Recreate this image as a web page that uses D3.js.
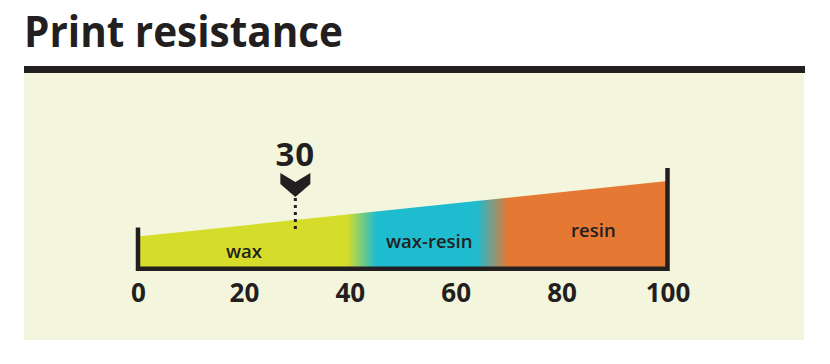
<!DOCTYPE html>
<html>
<head>
<meta charset="utf-8">
<script src="https://cdn.jsdelivr.net/npm/d3@7"></script>
<style>
  body { margin: 0; background: #ffffff; }
  text { font-family: "Open Sans", sans-serif; fill: #231f20; }
</style>
</head>
<body>
<div id="chart"></div>
<script>
var svgWidth = 830;
var svgHeight = 364;

// data
var title = "Print resistance";
var tickValues = [0, 20, 40, 60, 80, 100];
var zoneNames = ["wax", "wax-resin", "resin"];
var zoneColors = ["#d5dc29", "#1fbccf", "#e57832"];
var zoneStarts = [0, 45, 70];   // where each colour is fully on
var zoneEnds = [39.5, 64, 100]; // where each colour starts to fade
var labelX = [20, 55, 86];
var labelLevel = [11, 21, 31];
var wedgeX = [0, 100];
var wedgeTop = [32, 87];
var wallHeights = [41, 100];
var markerValue = 30;

var x = d3.scaleLinear().domain([0, 100]).range([138, 667.5]);
var y = d3.scaleLinear().domain([0, 100]).range([268.7, 168]);

var svg = d3.select("#chart")
  .append("svg")
  .attr("width", svgWidth)
  .attr("height", svgHeight);

// panel + heading bar
svg.append("rect")
  .attr("x", 24).attr("y", 72)
  .attr("width", 780).attr("height", 268)
  .attr("fill", "#f3f6dc");

svg.append("rect")
  .attr("x", 24).attr("y", 66)
  .attr("width", 781).attr("height", 7)
  .attr("fill", "#231f20");

svg.append("text")
  .attr("x", 24).attr("y", 47)
  .attr("font-size", 43)
  .attr("font-weight", 700)
  .attr("textLength", 319)
  .attr("lengthAdjust", "spacingAndGlyphs")
  .text(title);

// gradient along the x axis
var defs = svg.append("defs");
var grad = defs.append("linearGradient")
  .attr("id", "zones")
  .attr("gradientUnits", "userSpaceOnUse")
  .attr("x1", x(0)).attr("x2", x(100))
  .attr("y1", 0).attr("y2", 0);

zoneNames.forEach(function(name, i) {
  grad.append("stop").attr("offset", zoneStarts[i] / 100).attr("stop-color", zoneColors[i]);
  grad.append("stop").attr("offset", zoneEnds[i] / 100).attr("stop-color", zoneColors[i]);
});

// wedge
var area = d3.area()
  .x(d => x(d[0]))
  .y0(y(0))
  .y1(d => y(d[1]));

svg.append("path")
  .datum(wedgeX.map((v, i) => [v, wedgeTop[i]]))
  .attr("d", area)
  .attr("fill", "url(#zones)");

// zone labels
svg.selectAll(".zone-label")
  .data(zoneNames)
  .enter()
  .append("text")
  .attr("class", "zone-label")
  .attr("x", (d, i) => x(labelX[i]))
  .attr("y", (d, i) => y(labelLevel[i]))
  .attr("text-anchor", "middle")
  .attr("font-size", 18.5)
  .attr("font-weight", 600)
  .text(d => d);

// axis frame
var frame = d3.line()([
  [x(0), y(wallHeights[0])],
  [x(0), y(0)],
  [x(100), y(0)],
  [x(100), y(wallHeights[1])]
]);
svg.append("path")
  .attr("d", frame)
  .attr("fill", "none")
  .attr("stroke", "#231f20")
  .attr("stroke-width", 4.5)
  .attr("stroke-linejoin", "miter");

// ticks
var bottomAxis = d3.axisBottom(x).tickValues(tickValues).tickSize(0).tickPadding(0);
var axisG = svg.append("g")
  .attr("transform", `translate(0, ${y(0)})`)
  .call(bottomAxis);
axisG.select(".domain").remove();
axisG.selectAll("text")
  .attr("y", 33)
  .attr("dy", 0)
  .attr("font-size", 26)
  .attr("font-weight", 700)
  .attr("font-family", "Open Sans, sans-serif")
  .attr("fill", "#231f20");

// marker
var mx = x(markerValue) - 1.5;
svg.append("line")
  .attr("x1", mx).attr("x2", mx)
  .attr("y1", 198).attr("y2", 229)
  .attr("stroke", "#231f20")
  .attr("stroke-width", 3)
  .attr("stroke-dasharray", "3,4");

svg.append("path")
  .attr("d", `M${mx - 15},173 L${mx},182 L${mx + 15},173 L${mx + 15},184 L${mx},197 L${mx - 15},184 Z`)
  .attr("fill", "#231f20");

svg.append("text")
  .attr("x", mx)
  .attr("y", 166)
  .attr("text-anchor", "middle")
  .attr("font-size", 33)
  .attr("font-weight", 700)
  .attr("letter-spacing", 1)
  .text(markerValue);
</script>
</body>
</html>
